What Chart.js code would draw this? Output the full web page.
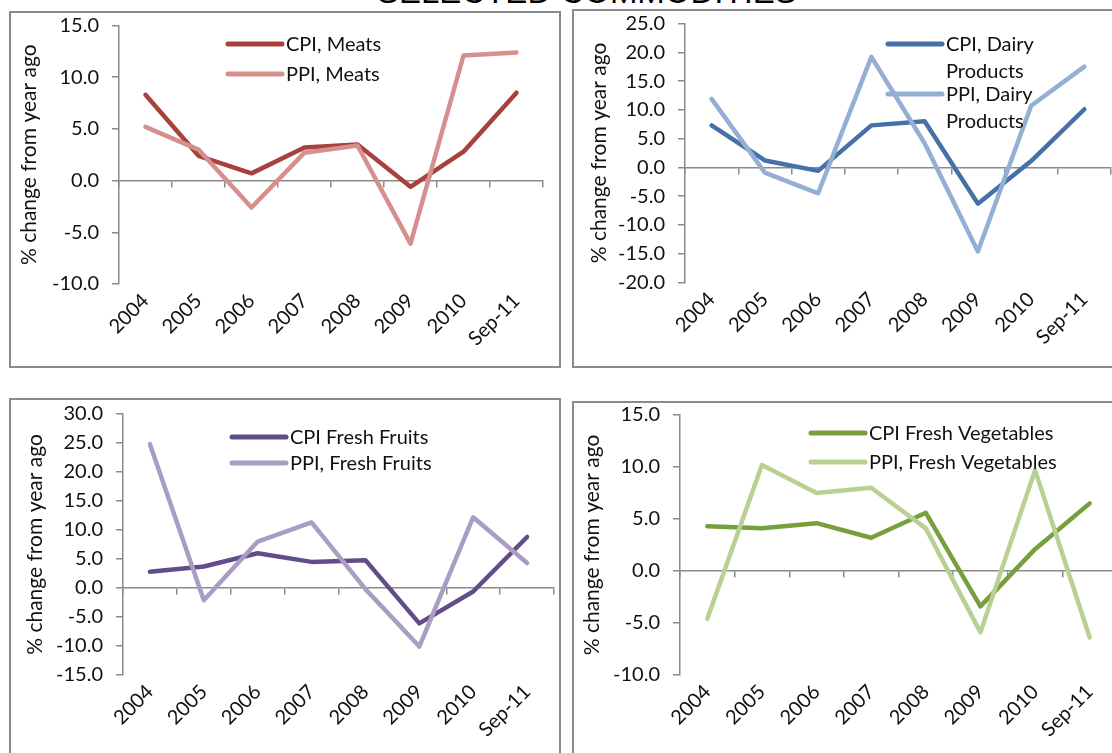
<!DOCTYPE html>
<html>
<head>
<meta charset="utf-8">
<script src="https://cdn.jsdelivr.net/npm/chart.js@4.4.1/dist/chart.umd.min.js"></script>
<style>
  html, body { margin: 0; padding: 0; background: #fff; width: 1112px; height: 753px; overflow: hidden; position: relative; }
  .frame { position: absolute; border: 2px solid #8a8a8a; box-sizing: border-box; }
  canvas { position: absolute; }
  #title { position: absolute; left: 377px; top: -25px; font: 33px/33px "Liberation Sans", Arial, sans-serif; color: #000; white-space: nowrap; }
</style>
</head>
<body>
<div id="title">SELECTED COMMODITIES</div>
<div class="frame" style="left:9px;top:11px;width:552px;height:357px"></div>
<div class="frame" style="left:572px;top:9px;width:580px;height:359px"></div>
<div class="frame" style="left:9px;top:398px;width:552px;height:420px"></div>
<div class="frame" style="left:572px;top:401px;width:580px;height:420px"></div>
<canvas id="meats"></canvas>
<canvas id="dairy"></canvas>
<canvas id="fruits"></canvas>
<canvas id="veg"></canvas>
<script>
// Year-over-year % change, CPI vs PPI, by commodity
const categories = ['2004', '2005', '2006', '2007', '2008', '2009', '2010', 'Sep-11'];

const cpiMeats = [8.3, 2.4, 0.7, 3.2, 3.5, -0.6, 2.8, 8.5];
const ppiMeats = [5.2, 3.0, -2.6, 2.7, 3.4, -6.1, 12.1, 12.4];

const cpiDairy = [7.3, 1.2, -0.6, 7.3, 8.0, -6.3, 1.1, 10.1];
const ppiDairy = [11.9, -0.9, -4.5, 19.2, 4.2, -14.6, 10.7, 17.5];

const cpiFruits = [2.8, 3.7, 6.0, 4.5, 4.8, -6.1, -0.6, 8.8];
const ppiFruits = [24.8, -2.1, 8.0, 11.3, -0.2, -10.1, 12.2, 4.3];

const cpiVeg = [4.3, 4.1, 4.6, 3.2, 5.6, -3.4, 2.1, 6.5];
const ppiVeg = [-4.6, 10.2, 7.5, 8.0, 4.1, -5.9, 9.7, -6.4];

const yTitle = '% change from year ago';
const FONT_FAMILY = 'Lato, "Open Sans", sans-serif';
const FONT_SIZE = 20;
const AXIS = '#8a8a8a';

// Legend drawn inside the plot area, one short thick line per series
function wrapText(ctx, text, maxWidth) {
  const words = text.split(' ');
  const lines = [];
  let cur = '';
  words.forEach(w => {
    const test = cur ? cur + ' ' + w : w;
    if (cur && ctx.measureText(test).width > maxWidth) { lines.push(cur); cur = w; }
    else cur = test;
  });
  if (cur) lines.push(cur);
  return lines;
}

const insideLegend = {
  id: 'insideLegend',
  afterDraw(chart, args, opts) {
    const ctx = chart.ctx;
    ctx.save();
    ctx.font = FONT_SIZE + 'px ' + FONT_FAMILY;
    ctx.textBaseline = 'middle';
    ctx.textAlign = 'left';
    chart.data.datasets.forEach((ds, i) => {
      const y = opts.rows[i];
      ctx.strokeStyle = ds.borderColor;
      ctx.lineWidth = 5;
      ctx.lineCap = 'round';
      ctx.beginPath();
      ctx.moveTo(opts.x, y);
      ctx.lineTo(opts.x + 54, y);
      ctx.stroke();
      ctx.fillStyle = '#111';
      wrapText(ctx, ds.label, opts.maxWidth).forEach((t, k) => {
        ctx.fillText(t, opts.x + 58, y + 1 + k * 27);
      });
    });
    ctx.restore();
  }
};

function makePanel(p) {
  const canvas = document.getElementById(p.id);
  canvas.width = p.w;
  canvas.height = p.h;
  canvas.style.left = p.left + 'px';
  canvas.style.top = p.top + 'px';
  const font = { family: FONT_FAMILY, size: FONT_SIZE };
  new Chart(canvas, {
    type: 'line',
    data: {
      labels: categories,
      datasets: [
        { label: p.labels[0], data: p.cpi, borderColor: p.colors[0], order: 1 },
        { label: p.labels[1], data: p.ppi, borderColor: p.colors[1], order: 0 }
      ]
    },
    options: {
      responsive: false,
      animation: false,
      devicePixelRatio: 1,
      layout: { padding: { left: 0, right: p.padR, top: p.padT, bottom: 0 } },
      elements: {
        line: { borderWidth: 4.5, tension: 0, borderCapStyle: 'round', borderJoinStyle: 'round', fill: false },
        point: { radius: 0, hoverRadius: 0 }
      },
      plugins: {
        legend: { display: false },
        tooltip: { enabled: false },
        insideLegend: { x: p.legX - p.left, rows: p.legRows.map(v => v - p.top), maxWidth: p.legMax }
      },
      scales: {
        x: {
          type: 'category',
          offset: true,
          border: { display: false },
          grid: { display: false, drawTicks: false },
          ticks: { minRotation: 45, maxRotation: 45, padding: 5, color: '#111', font, autoSkip: false },
          afterFit(s) { s.height = p.xH; s.paddingLeft = 0; s.paddingRight = 0; }
        },
        x0: {
          type: 'category',
          offset: true,
          position: { y: 0 },
          border: { display: true, color: AXIS, width: 1.5 },
          grid: { offset: true, drawOnChartArea: false, drawTicks: true, tickLength: 6, color: AXIS, lineWidth: 1.5 },
          ticks: { display: false }
        },
        y: {
          min: p.min,
          max: p.max,
          border: { display: true, color: AXIS, width: 1.5 },
          grid: { drawOnChartArea: false, drawTicks: true, tickLength: 7, color: AXIS, lineWidth: 1.5 },
          ticks: { stepSize: 5, padding: 13, color: '#111', font, callback: v => Number(v).toFixed(1) },
          title: { display: true, text: yTitle, color: '#111', font: { family: FONT_FAMILY, size: 21, lineHeight: 1.2 }, padding: { top: p.titlePad, bottom: 0 } },
          afterFit(s) { s.width = p.yW; s.paddingTop = 0; s.paddingBottom = 0; }
        }
      }
    },
    plugins: [insideLegend]
  });
}

makePanel({
  id: 'meats', left: 11, top: 13, w: 548, h: 353,
  yW: 108, padR: 16, padT: 12.5, xH: 82, titlePad: 6,
  min: -10, max: 15,
  cpi: cpiMeats, ppi: ppiMeats,
  labels: ['CPI, Meats', 'PPI, Meats'],
  colors: ['#a8403c', '#d58f8d'],
  legX: 228, legRows: [44, 74], legMax: 1000
});

makePanel({
  id: 'dairy', left: 574, top: 11, w: 556, h: 355,
  yW: 111, padR: 19, padT: 12.5, xH: 83.5, titlePad: 13,
  min: -20, max: 25,
  cpi: cpiDairy, ppi: ppiDairy,
  labels: ['CPI, Dairy Products', 'PPI, Dairy Products'],
  colors: ['#4371a8', '#94aed4'],
  legX: 888, legRows: [44, 94], legMax: 125
});

makePanel({
  id: 'fruits', left: 11, top: 400, w: 548, h: 360,
  yW: 112, padR: 5, padT: 14, xH: 85, titlePad: 12,
  min: -15, max: 30,
  cpi: cpiFruits, ppi: ppiFruits,
  labels: ['CPI Fresh Fruits', 'PPI, Fresh Fruits'],
  colors: ['#634c8a', '#aa9dc4'],
  legX: 232, legRows: [437, 463], legMax: 1000
});

makePanel({
  id: 'veg', left: 574, top: 403, w: 556, h: 357,
  yW: 106, padR: 13, padT: 12, xH: 85, titlePad: 6,
  min: -10, max: 15,
  cpi: cpiVeg, ppi: ppiVeg,
  labels: ['CPI Fresh Vegetables', 'PPI, Fresh Vegetables'],
  colors: ['#779f3d', '#b8d193'],
  legX: 811, legRows: [433, 462], legMax: 1000
});
</script>
</body>
</html>
